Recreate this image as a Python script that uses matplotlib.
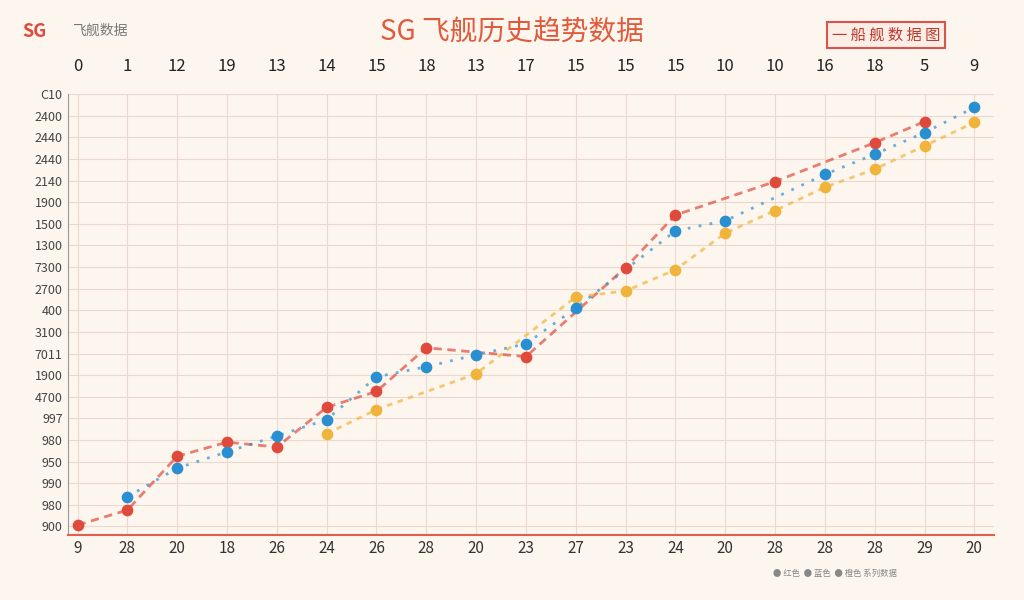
import matplotlib
matplotlib.use("Agg")
import matplotlib.pyplot as plt
import numpy as np

plt.rcParams["font.family"] = ["Noto Sans CJK SC", "DejaVu Sans"]

top_labels = ["0","1","12","19","13","14","15","18","13","17","15","15","15","10","10","16","18","5","9"]
bottom_labels = ["9","28","20","18","26","24","26","28","20","23","27","23","24","20","28","28","28","29","20"]
y_labels = ["900","980","990","950","980","997","4700","1900","7011","3100","400","2700","7300","1300","1500","1900","2140","2440","2440","2400","C10"]

red = [2.3,5.7,17.9,21.1,20,29,32.6,42.5,None,40.5,None,60.7,72.6,None,80.2,None,89,93.8,None]
orange = [None,None,None,None,None,23,28.5,None,36.6,None,54,55.4,60.2,68.5,73.6,78.9,83,88.3,93.6]
blue = [None,8.7,15.2,18.9,22.5,26.2,35.9,38.2,40.9,43.4,51.5,None,69,71.3,None,81.8,86.4,91.3,97]

bg = "#fdf6ee"
fig = plt.figure(figsize=(10.24, 6.0), dpi=100, facecolor=bg)
ax = fig.add_axes([0.066, 0.108, 0.905, 0.735], facecolor=bg)

x = np.arange(len(top_labels))
def series(v):
    xs = [i for i, a in enumerate(v) if a is not None]
    ys = [a for a in v if a is not None]
    return xs, ys

for vals, col, ls in [(red, "#e04a3c", (0, (3, 2))), (orange, "#f0b43c", (0, (2, 2))), (blue, "#2a8fd0", (0, (1, 3)))]:
    xs, ys = series(vals)
    ax.plot(xs, ys, color=col, lw=2, ls=ls, alpha=0.7, zorder=2)
    ax.scatter(xs, ys, s=55, color=col, zorder=3)

ax.set_xlim(-0.2, 18.4)
ax.set_ylim(0, 100)
ax.set_xticks(x)
ax.set_xticklabels(bottom_labels, fontsize=11, color="#333")
ax.set_yticks(np.linspace(2, 100, len(y_labels)))
ax.set_yticklabels(y_labels, fontsize=9, color="#444")
ax.grid(color="#ead9cc", lw=0.8)
for s in ["top", "right"]:
    ax.spines[s].set_visible(False)
ax.spines["left"].set_color("#999")
ax.spines["bottom"].set_color("#e06050")
ax.spines["bottom"].set_linewidth(1.5)
ax.tick_params(length=0)

ax2 = ax.twiny()
ax2.set_xlim(ax.get_xlim())
ax2.set_xticks(x)
ax2.set_xticklabels(top_labels, fontsize=12, color="#222")
ax2.tick_params(length=0, pad=14)
for s in ax2.spines.values():
    s.set_visible(False)

fig.text(0.5, 0.945, "SG 飞舰历史趋势数据", ha="center", va="center", fontsize=20, color="#e05a3c")
fig.text(0.022, 0.948, "SG", fontsize=13, color="#e04a3c", fontweight="bold", va="center", style="italic")
fig.text(0.07, 0.948, "飞舰数据", fontsize=10, color="#777", va="center")
fig.text(0.865, 0.942, "一 船 舰 数 据 图", fontsize=11, color="#c0392b", va="center", ha="center",
         bbox=dict(boxstyle="square,pad=0.3", fc="#fbeee6", ec="#d9534f", lw=1.5))
fig.text(0.755, 0.045, "● 红色  ● 蓝色  ● 橙色 系列数据", fontsize=6, color="#888", va="center")
fig.savefig("out.png", dpi=100, facecolor=bg)
